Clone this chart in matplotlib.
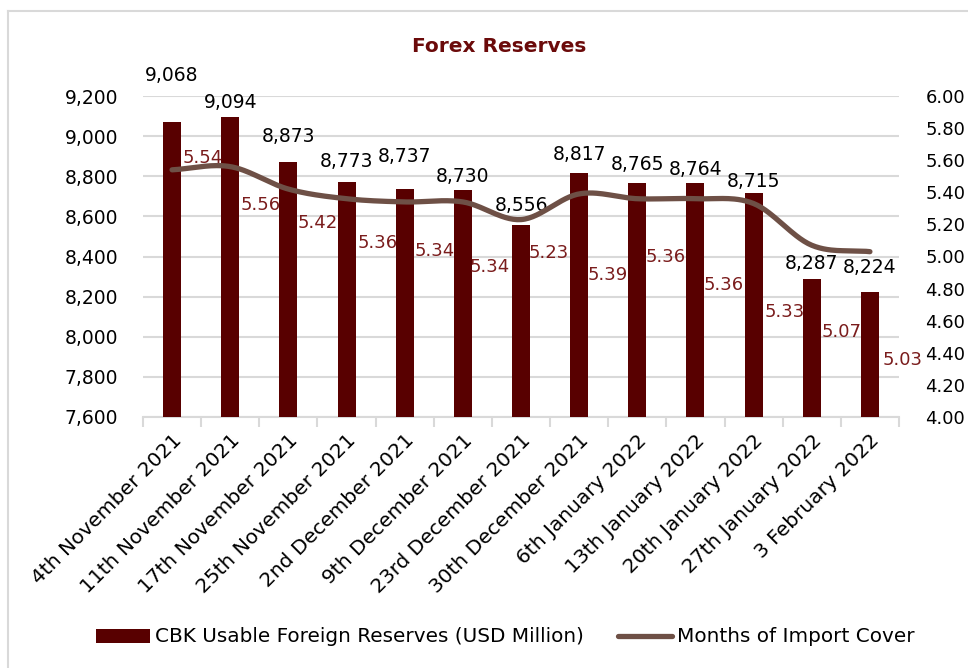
import numpy as np
import matplotlib
matplotlib.use("Agg")
import matplotlib.pyplot as plt
from matplotlib.lines import Line2D
import matplotlib.transforms as mtransforms

# data
dates = ["4th November 2021", "11th November 2021", "17th November 2021",
         "25th November 2021", "2nd December 2021", "9th December 2021",
         "23rd December 2021", "30th December 2021", "6th January 2022",
         "13th January 2022", "20th January 2022", "27th January 2022",
         "3 February 2022"]
reserves = [9068, 9094, 8873, 8773, 8737, 8730, 8556, 8817, 8765, 8764, 8715, 8287, 8224]
import_cover = [5.54, 5.56, 5.42, 5.36, 5.34, 5.34, 5.23, 5.39, 5.36, 5.36, 5.33, 5.07, 5.03]

# label offsets (pixels), tuned to the reference placement
bar_label_dy = [47, 15, 25, 20, 32, 14, 20, 18, 19, 14, 12, 16, 24]
cover_label_dx = [31, 30, 29, 31, 30, 27, 28, 29, 28, 28, 31, 30, 33]
cover_label_dy = [12, -38, -34, -44, -49, -65, -33, -81, -58, -86, -108, -87, -108]

bar_color = "#580000"
line_color = "#6e5046"
title_color = "#6b0a0a"
grid_color = "#d9d9d9"

plt.rcParams["font.family"] = ["DejaVu Sans"]
fs = 13


def smooth(y, n=30):
    # catmull-rom style smoothing like excel's smoothed line
    y = np.asarray(y, dtype=float)
    p = np.concatenate([[2 * y[0] - y[1]], y, [2 * y[-1] - y[-2]]])
    xs, ys = [], []
    for i in range(len(y) - 1):
        t = np.linspace(0, 1, n, endpoint=False)
        p0, p1, p2, p3 = p[i], p[i + 1], p[i + 2], p[i + 3]
        seg = 0.5 * ((2 * p1) + (-p0 + p2) * t + (2 * p0 - 5 * p1 + 4 * p2 - p3) * t ** 2
                     + (-p0 + 3 * p1 - 3 * p2 + p3) * t ** 3)
        xs.append(i + t)
        ys.append(seg)
    xs.append([len(y) - 1])
    ys.append([y[-1]])
    return np.concatenate(xs), np.concatenate(ys)


fig = plt.figure(figsize=(9.68, 6.68), dpi=100)
# outer chart frame (only top and left edges visible in the reference)
fx, fy = 8 / 968, 1 - 11 / 668
fig.lines.append(Line2D([fx, 1.1], [fy, fy], transform=fig.transFigure, color=grid_color, linewidth=1.5))
fig.lines.append(Line2D([fx, fx], [fy, -0.1], transform=fig.transFigure, color=grid_color, linewidth=1.5))

ax = fig.add_axes([143 / 968, 1 - 417 / 668, (899 - 143) / 968, (417 - 96) / 668])
ax2 = ax.twinx()

x = np.arange(len(dates))
bars = ax.bar(x, reserves, width=0.31, color=bar_color, zorder=3,
              label="CBK Usable Foreign Reserves (USD Million)")
ax.set_ylim(7600, 9200)
ax.set_yticks(np.arange(7600, 9201, 200))
ax.set_yticklabels([f"{v:,}" for v in range(7600, 9201, 200)], fontsize=13.5)
ax.yaxis.grid(True, color=grid_color, linewidth=1.5, zorder=0)
ax.set_axisbelow(True)
ax.set_xlim(-0.5, len(dates) - 0.5)
ax.set_xticks(x)
ax.set_xticklabels(dates, rotation=45, ha="right", rotation_mode="anchor", fontsize=14.5)
shift = mtransforms.ScaledTranslation(-5 / 100, -3 / 100, fig.dpi_scale_trans)
for lbl in ax.get_xticklabels():
    lbl.set_transform(lbl.get_transform() + shift)
ax.set_xticks(np.arange(-0.5, len(dates), 1), minor=True)
ax.tick_params(axis="x", which="major", length=0, pad=10)
ax.tick_params(axis="x", which="minor", length=7, width=1.5, color=grid_color)
ax.tick_params(axis="y", length=0, pad=18)
for s in ["top", "left", "right"]:
    ax.spines[s].set_visible(False)
    ax2.spines[s].set_visible(False)
ax.spines["bottom"].set_color(grid_color)
ax.spines["bottom"].set_linewidth(1.5)
ax2.spines["bottom"].set_visible(False)

for i, (b, v) in enumerate(zip(bars, reserves)):
    ax.annotate(f"{v:,}", (b.get_x() + b.get_width() / 2, v), xytext=(0, bar_label_dy[i]),
                textcoords="offset pixels", ha="center", va="center", fontsize=13.5, color="black")

sx, sy = smooth(import_cover)
ax2.plot(sx, sy, color=line_color, linewidth=3.8, solid_capstyle="round", zorder=4,
         label="Months of Import Cover")
ax2.set_ylim(4.0, 6.0)
ax2.set_yticks(np.arange(4.0, 6.01, 0.2))
ax2.set_yticklabels([f"{v:.2f}" for v in np.arange(4.0, 6.01, 0.2)], fontsize=fs)
ax2.tick_params(axis="y", length=0, pad=19)

for i, v in enumerate(import_cover):
    ax2.annotate(f"{v:.2f}", (i, v), xytext=(cover_label_dx[i], cover_label_dy[i]),
                 textcoords="offset pixels", ha="center", va="center", fontsize=fs,
                 color="#7a1c1c", zorder=5)

fig.text(499 / 968, 1 - 47 / 668, "Forex Reserves", ha="center", va="center",
         fontsize=14.5, fontweight="bold", color=title_color)

h1, l1 = ax.get_legend_handles_labels()
h2, l2 = ax2.get_legend_handles_labels()
fig.legend(h1 + h2, l1 + l2, loc="center", bbox_to_anchor=(505 / 968, 1 - 637 / 668), ncol=2,
           frameon=False, fontsize=14.4, handlelength=2.7, handletextpad=0.25, columnspacing=1.7)

fig.savefig("out.png", dpi=100)
